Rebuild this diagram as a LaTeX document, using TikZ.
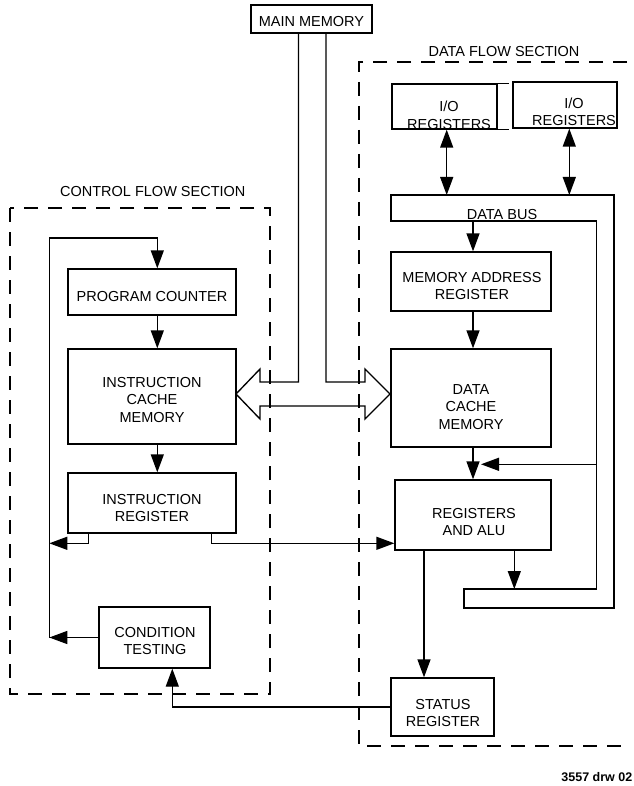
\documentclass[tikz,border=0pt]{standalone}
\usepackage{fontspec}
\setmainfont{Liberation Sans}
\usetikzlibrary{arrows.meta,fit}
\begin{document}
\begin{tikzpicture}[x=1pt,y=-1pt,line width=1.35pt,
  box/.style={draw,inner sep=0pt,line width=1.35pt},
  txt/.style={font=\fontsize{14.5}{17.5}\selectfont,align=center,inner sep=0pt},
  arr/.style={-{Triangle[length=18pt,width=13pt]}},
  darr/.style={{Triangle[length=18pt,width=13pt]}-{Triangle[length=18pt,width=13pt]}},
  dsh/.style={dash pattern=on 14pt off 10pt}]
\useasboundingbox (0,0) rectangle (633,786);
% boxes
\node[box,fit={(251,5) (372,33)}] (mm) {};
\node[txt] (mmt) at (311.5,22) {MAIN MEMORY};
\node[box,fit={(68,269) (236,315)}] (pc) {};
\node[txt] (pct) at (152,297) {PROGRAM COUNTER};
\node[box,fit={(68,349) (236,444)}] (icm) {};
\node[txt] (icmt) at (152,400) {INSTRUCTION\\CACHE\\MEMORY};
\node[box,fit={(68,473) (236,533)}] (ir) {};
\node[txt] (irt) at (152,508) {INSTRUCTION\\REGISTER};
\node[box,fit={(99,607) (210,668)}] (ct) {};
\node[txt] (ctt) at (155,641) {CONDITION\\TESTING};
\node[box,fit={(392,84) (497,129)}] (io1) {};
\node[txt] (io1t) at (449,115.5) {I/O\\REGISTERS};
\node[box,fit={(513,82) (617,128)}] (io2) {};
\node[txt] (io2t) at (574,112) {I/O\\REGISTERS};
\node[box,fit={(391,252) (551,311)}] (mar) {};
\node[txt] (mart) at (472,286) {MEMORY ADDRESS\\REGISTER};
\node[box,fit={(391,349) (551,447)}] (dcm) {};
\node[txt] (dcmt) at (471,407) {DATA\\CACHE\\MEMORY};
\node[box,fit={(395,480) (551,550)}] (alu) {};
\node[txt] (alut) at (474,522) {REGISTERS\\AND ALU};
\node[box,fit={(391,678) (494,736)}] (sr) {};
\node[txt] (srt) at (443,713) {STATUS\\REGISTER};
% labels
\node[txt] (cfs) at (152.8,191.5) {CONTROL FLOW SECTION};
\node[txt] (dfs) at (504,51.5) {DATA FLOW SECTION};
\node[txt] (db) at (502,215) {DATA BUS};
\node[font=\bfseries\fontsize{12.5}{14}\selectfont,anchor=east,inner sep=0pt] (drw) at (633,777) {3557 drw 02};
% sections
\draw[dsh] (10,208) rectangle (270,694);
\draw[dsh] (627,62) -- (359,62) -- (359,746) -- (625,746);
% coordinates
\coordinate (xl) at (298.5,0);
\coordinate (xr) at (326,0);
\coordinate (lt) at (236,394);
\coordinate (rt) at (390,394);
\coordinate (xa) at (157.3,0);
\coordinate (lx) at (49.3,0);
\coordinate (ltop) at (49.3,238);
\coordinate (row) at (0,543.3);
\coordinate (irl) at (88.7,0);
\coordinate (irr) at (211.3,0);
\coordinate (ctx) at (172.3,0);
\coordinate (asx) at (424,0);
\coordinate (dx) at (473,0);
\coordinate (ox) at (514.3,0);
\coordinate (busTL) at (391,195);
\coordinate (busTR) at (614,195);
\coordinate (busBR) at (614,608);
\coordinate (busBL) at (464,608);
\coordinate (busIBL) at (464,589);
\coordinate (busIBR) at (596.5,589);
\coordinate (busITR) at (596.5,221);
\coordinate (busITL) at (391,221);
\coordinate (feed) at (596.5,464.3);
\coordinate (feedtip) at (481,464.3);
\coordinate (io1x) at (446.7,0);
\coordinate (io2x) at (569.3,0);
% main memory and wide two-way arrow
\draw (mm.south -| xl) |- (260,382) -- (260,369) -- (lt) -- (260,419) -- (260,406)
  -- (365,406) -- (365,419) -- (rt) -- (365,369) -- (365,382) -| (mm.south -| xr);
% control flow
\draw[arr] (ct.west) -- (ct.west -| lx);
\draw[arr] (ct.west -| lx) -- (ltop) -| (pc.north -| xa);
\draw[arr] (pc.south -| xa) -- (icm.north -| xa);
\draw[arr] (icm.south -| xa) -- (ir.north -| xa);
\draw[arr] (ir.south -| irl) |- (row -| lx);
\draw[arr] (ir.south -| irr) |- (row -| alu.west);
\draw[arr] (sr.west) -| (ct.south -| ctx);
% data flow
\draw (busTL) -- (busTR) -- (busBR) -- (busBL) -- (busIBL) -- (busIBR) -- (busITR) -- (busITL) -- cycle;
\draw[darr] (io1.south -| io1x) -- (busTL -| io1x);
\draw[darr] (io2.south -| io2x) -- (busTL -| io2x);
\draw (io1.north east) -- ++(11,0);
\draw (io1.south east) -- ++(11,0);
\draw[arr] (busITL -| dx) -- (mar.north -| dx);
\draw[arr] (mar.south -| dx) -- (dcm.north -| dx);
\draw[arr] (dcm.south -| dx) -- (alu.north -| dx);
\draw[arr] (feed) -- (feedtip);
\draw[arr] (alu.south -| ox) -- (busIBL -| ox);
\draw[arr] (alu.south -| asx) -- (sr.north -| asx);
\end{tikzpicture}
\end{document}
